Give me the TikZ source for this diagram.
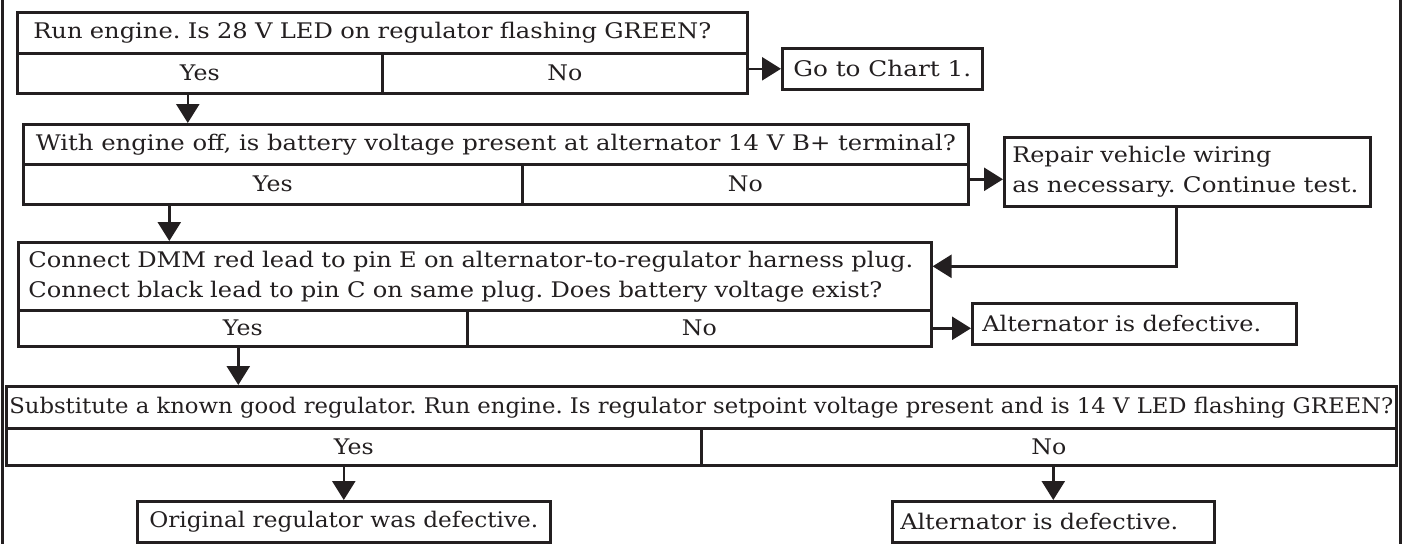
\documentclass[tikz,border=0pt]{standalone}
\usepackage{fontspec}
\usepackage{graphicx}
\setmainfont[FakeStretch=1.1]{DejaVu Serif}
\usetikzlibrary{arrows.meta}
\definecolor{ink}{RGB}{35,31,32}
\newcommand\chartfs{\fontsize{21.5}{30}\selectfont}
\newcommand\fitw[2]{\resizebox{#1}{\height}{#2}}
\tikzset{
  cell/.style={draw=ink, text=ink, line width=2.6pt, anchor=north west, inner sep=0pt, font=\chartfs},
  leftcell/.style={cell, align=left},
  arr/.style={draw=ink, line width=2.6pt, -{Triangle[length=19pt,width=23pt]}},
  frameline/.style={draw=ink, line width=3pt}
}
\frenchspacing
\begin{document}
\frenchspacing
\begin{tikzpicture}[x=1pt,y=-1pt]
\useasboundingbox (0,0) rectangle (1406,544);
\draw[frameline] (2,0) -- (2,544);
\draw[frameline] (1400,0) -- (1400,544);
% Box 1
\node[leftcell, text width=698, minimum width=730, minimum height=41] (q1q) at (16,11) {\fitw{678pt}{Run engine. Is 28 V LED on regulator flashing GREEN?}};
\node[cell, minimum width=365, minimum height=40] (q1y) at (16,52) {Yes};
\node[cell, minimum width=365, minimum height=40] (q1n) at (381,52) {No};
\node[cell, minimum width=200, minimum height=41] (go) at (781,47) {\fitw{178pt}{Go to Chart 1.}};
% Box 2
\node[cell, minimum width=945, minimum height=40] (q2q) at (22,123) {\fitw{920pt}{With engine off, is battery voltage present at alternator 14 V B+ terminal?}};
\node[cell, minimum width=499, minimum height=40] (q2y) at (22,163) {Yes};
\node[cell, minimum width=446, minimum height=40] (q2n) at (521,163) {No};
\node[leftcell, text width=350, minimum width=366, minimum height=69] (rep) at (1003,136) {\fitw{259pt}{Repair vehicle wiring}\\\fitw{346pt}{as necessary. Continue test.}};
% Box 3
\node[leftcell, text width=893, minimum width=913, minimum height=68] (q3q) at (17,241) {\fitw{885pt}{Connect DMM red lead to pin E on alternator-to-regulator harness plug.}\\\fitw{854pt}{Connect black lead to pin C on same plug. Does battery voltage exist?}};
\node[cell, minimum width=449, minimum height=36] (q3y) at (17,309) {Yes};
\node[cell, minimum width=464, minimum height=36] (q3n) at (466,309) {No};
\node[leftcell, text width=304, minimum width=324, minimum height=41] (alt1) at (971,302) {\fitw{279pt}{Alternator is defective.}};
% Box 4
\node[cell, minimum width=1390, minimum height=42] (q4q) at (5,385) {\fitw{1384pt}{Substitute a known good regulator. Run engine. Is regulator setpoint voltage present and is 14 V LED flashing GREEN?}};
\node[cell, minimum width=695, minimum height=37] (q4y) at (5,427) {Yes};
\node[cell, minimum width=695, minimum height=37] (q4n) at (700,427) {No};
\node[cell, minimum width=413, minimum height=41] (orig) at (136,500) {\fitw{389pt}{Original regulator was defective.}};
\node[leftcell, text width=306, minimum width=322, minimum height=41] (alt2) at (891,500) {\fitw{278pt}{Alternator is defective.}};
% Connectors
\draw[arr] (go.west -| q1n.east) -- (go.west);
\draw[arr] ([xshift=-12pt]q1y.south) -- ([xshift=-12pt]q1y.south |- q2q.north);
\draw[arr] ([yshift=5pt]q2n.east) -- ([yshift=5pt]q2n.east -| rep.west);
\draw[arr] ([xshift=-103.5pt]q2y.south) -- ([xshift=-103.5pt]q2y.south |- q3q.north);
\draw[arr] ([xshift=-11pt]rep.south) |- ([yshift=10pt]q3q.east);
\draw[arr] (q3n.east) -- (q3n.east -| alt1.west);
\draw[arr] ([xshift=-4.5pt]q3y.south) -- ([xshift=-4.5pt]q3y.south |- q4q.north);
\draw[arr] (orig.north |- q4y.south) -- (orig.north);
\draw[arr] (alt2.north |- q4n.south) -- (alt2.north);
\end{tikzpicture}
\end{document}
